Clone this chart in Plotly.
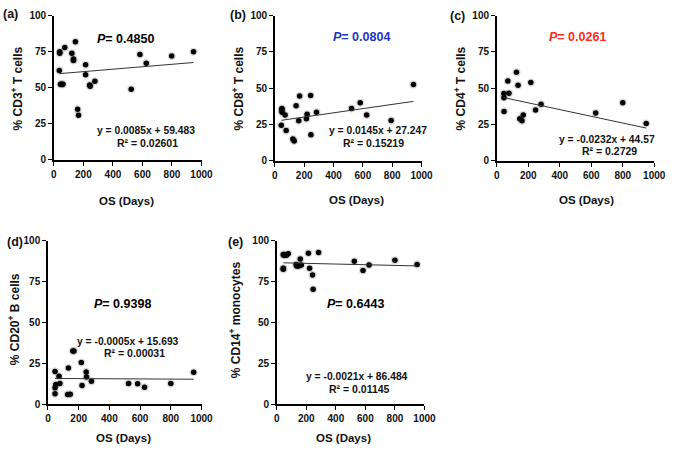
import numpy as np
import plotly.graph_objects as go

# ---------------- data ----------------
a_os = [40, 40, 37, 45, 52, 62, 74, 122, 133, 133, 146, 161, 167, 215, 215, 243, 246, 278, 524, 583, 626, 798, 946]
a_cd3 = [75, 74, 62, 52.5, 52.5, 52.5, 78, 74, 70, 69, 82, 35, 31, 66, 59, 52, 51, 54.5, 49, 73, 67, 72, 75]

b_os = [44, 48, 48, 49, 70, 77, 123, 132, 145, 163, 169, 215, 220, 244, 246, 284, 523, 582, 626, 793, 945]
b_cd8 = [24.5, 36, 35, 33.5, 31.5, 20.8, 15, 13.6, 38, 27.5, 44.6, 29, 32, 45, 18, 33.5, 36, 40, 31.5, 27.7, 52.5]

c_os = [45, 45, 46, 70, 77, 125, 135, 146, 160, 168, 216, 246, 281, 628, 800, 949]
c_cd4 = [46.4, 43.5, 34, 55, 46.5, 61, 52, 29, 27.5, 31.5, 54, 35, 39, 33, 40, 25.7]

d_os = [46, 46, 51, 46, 72, 78, 133, 128, 145, 162, 169, 217, 222, 249, 251, 283, 525, 584, 629, 800, 949]
d_cd20 = [20, 10, 12, 6.3, 17, 12.6, 22, 5.8, 6.0, 32.5, 32.5, 25.4, 11.4, 19.7, 16.6, 14, 12.6, 12.4, 10.3, 12.6, 19.5]

e_os = [44, 44, 48, 44, 65, 78, 131, 135, 148, 159, 166, 214, 222, 242, 246, 283, 525, 584, 625, 800, 950]
e_cd14 = [91.5, 83, 91, 82.4, 91, 92, 85.4, 84.4, 84.4, 88.8, 85, 92.3, 83, 79, 70.2, 92.7, 87.4, 81.7, 85, 88, 85.4]

slopes = [0.0085, 0.0145, -0.0232, -0.0005, -0.0021]
intercepts = [59.483, 27.247, 44.57, 15.693, 86.484]
r2_labels = ["0.02601", "0.15219", "0.2729", "0.00031", "0.01145"]
eq_labels = ["y = 0.0085x + 59.483", "y = 0.0145x + 27.247", "y = -0.0232x + 44.57",
             "y = -0.0005x + 15.693", "y = -0.0021x + 86.484"]
p_labels = ["0.4850", "0.0804", "0.0261", "0.9398", "0.6443"]
panel_labels = ["(a)", "(b)", "(c)", "(d)", "(e)"]
y_titles = ["% CD3<sup>+</sup> T cells", "% CD8<sup>+</sup> T cells", "% CD4<sup>+</sup> T cells",
            "% CD20<sup>+</sup> B cells", "% CD14<sup>+</sup> monocytes"]
x_title = "OS (Days)"
x_ticks = [0, 200, 400, 600, 800, 1000]
y_ticks = [0, 25, 50, 75, 100]

xs = [a_os, b_os, c_os, d_os, e_os]
ys = [a_cd3, b_cd8, c_cd4, d_cd20, e_cd14]

# ---------------- layout geometry (pixels) ----------------
W, H = 677, 450
FONT = "Liberation Sans, Arial, sans-serif"
# plot areas: (left, right, top, bottom) in pixels
boxes = [(52, 203, 10, 158), (278, 428, 10, 159), (505, 666, 10, 159),
         (46, 203, 241, 409), (280, 431, 241, 409)]
p_pos = [(125, 34), (367, 32), (588, 32), (122, 306), (360, 306)]
p_cols = ["#000000", "#1f35c0", "#ff2a17", "#000000", "#000000"]
eq_pos = [(146, 128), (383, 128), (618, 137), (128, 345), (362, 381)]
r2_pos = [(148, 141), (379, 141), (620, 149), (134, 357), (365, 393)]
ytitle_pos = [(14, 85), (240, 85), (467, 85), (12, 322), (238, 322)]
xtitle_pos = [(126, 200), (362, 199), (597, 199), (123, 444), (348, 444)]
label_pos = [(8, 8), (240, 9), (465, 10), (12, 242), (238, 242)]


def px(x):
    return x / W


def py(y):
    return 1 - y / H


fig = go.Figure()
layout = dict(width=W, height=H, margin=dict(l=0, r=0, t=0, b=0),
              paper_bgcolor="white", plot_bgcolor="white", showlegend=False,
              font=dict(family=FONT, color="#111111"))
annotations = []
TXT = "#111111"


def note(pos, text, size, color=TXT, angle=0):
    return dict(x=px(pos[0]), y=py(pos[1]), xref="paper", yref="paper",
                xanchor="center", yanchor="middle", text=text, showarrow=False,
                textangle=angle, font=dict(family=FONT, size=size, weight="bold", color=color))


for i in range(5):
    xa = "x" if i == 0 else f"x{i+1}"
    ya = "y" if i == 0 else f"y{i+1}"
    xk = "xaxis" if i == 0 else f"xaxis{i+1}"
    yk = "yaxis" if i == 0 else f"yaxis{i+1}"
    l, r, t, b = boxes[i]
    x = np.array(xs[i], dtype=float)
    y = np.array(ys[i], dtype=float)
    # soft shadow + points
    fig.add_trace(go.Scatter(x=x, y=y, mode="markers", xaxis=xa, yaxis=ya,
                             marker=dict(size=8, color="rgba(0,0,0,0.15)", line=dict(width=0)),
                             hoverinfo="skip"))
    fig.add_trace(go.Scatter(x=x, y=y, mode="markers", xaxis=xa, yaxis=ya,
                             marker=dict(size=5.5, color="black", line=dict(width=0))))
    # trend line from the regression equation
    tx = np.array([x.min(), x.max()])
    ty = slopes[i] * tx + intercepts[i]
    fig.add_trace(go.Scatter(x=tx, y=ty, mode="lines", xaxis=xa, yaxis=ya,
                             line=dict(color="#333333", width=1)))

    axis_common = dict(ticks="outside", ticklen=4, tickwidth=1.2, tickcolor="black",
                       showline=True, linecolor="black", linewidth=1.5,
                       showgrid=False, zeroline=False,
                       tickfont=dict(family=FONT, size=10, weight="bold", color=TXT))
    layout[xk] = dict(domain=[px(l), px(r)], range=[0, 1000], anchor=ya,
                      tickvals=x_ticks, **axis_common)
    layout[yk] = dict(domain=[py(b), py(t)], range=[0, 100], anchor=xa,
                      tickvals=y_ticks, **axis_common)

    annotations.append(note(p_pos[i], f"<i>P</i>= {p_labels[i]}", 12.5, p_cols[i]))
    annotations.append(note(eq_pos[i], eq_labels[i], 10.3))
    annotations.append(note(r2_pos[i], f"R² = {r2_labels[i]}", 10.5))
    annotations.append(note(ytitle_pos[i], y_titles[i], 12, angle=-90))
    annotations.append(note(xtitle_pos[i], x_title, 11.5))
    annotations.append(note(label_pos[i], panel_labels[i], 12.5))

layout["annotations"] = annotations
fig.update_layout(**layout)
fig.write_html("out.html", config={"displayModeBar": False},
               post_script="document.body.style.margin='0';")
